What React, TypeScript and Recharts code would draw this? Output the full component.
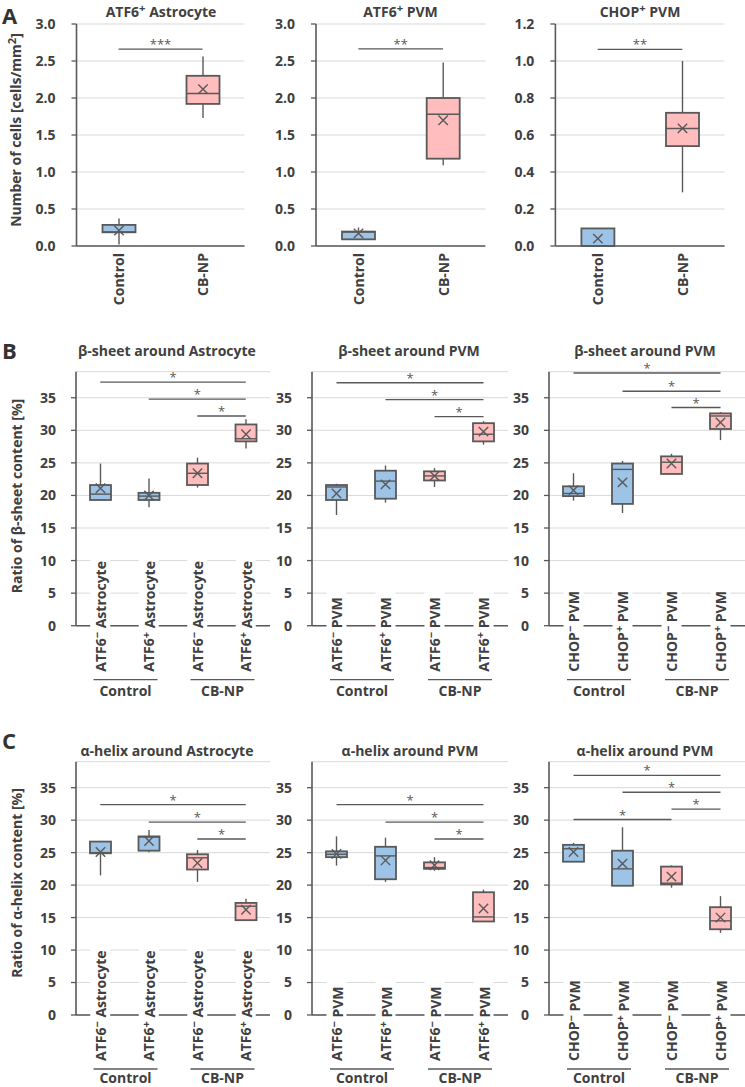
import React from "react";
import {
  ComposedChart,
  Bar,
  XAxis,
  YAxis,
  CartesianGrid,
  ReferenceLine,
} from "recharts";

const FONT = "'Open Sans', 'Segoe UI', sans-serif";
const TEXT = "#404040";
const LINE = "#595959";
const GRID = "#d9d9d9";
const BLUE = "#9dc3e6";
const PINK = "#ffbdbd";

// ---- ticks ----
const cellTicks = [0, 0.5, 1, 1.5, 2, 2.5, 3];
const chopCellTicks = [0, 0.2, 0.4, 0.6, 0.8, 1.0, 1.2];
const ratioTicks = [0, 5, 10, 15, 20, 25, 30, 35];

// ---- categories ----
const groupCategories = [
  { id: "Control", group: "Control" },
  { id: "CB-NP", group: "CB-NP" },
];
const atf6AstroCategories = [
  { id: "ctrl-", marker: "ATF6", sign: "−", cell: "Astrocyte", group: "Control" },
  { id: "ctrl+", marker: "ATF6", sign: "+", cell: "Astrocyte", group: "Control" },
  { id: "cb-", marker: "ATF6", sign: "−", cell: "Astrocyte", group: "CB-NP" },
  { id: "cb+", marker: "ATF6", sign: "+", cell: "Astrocyte", group: "CB-NP" },
];
const atf6PvmCategories = [
  { id: "ctrl-", marker: "ATF6", sign: "−", cell: "PVM", group: "Control" },
  { id: "ctrl+", marker: "ATF6", sign: "+", cell: "PVM", group: "Control" },
  { id: "cb-", marker: "ATF6", sign: "−", cell: "PVM", group: "CB-NP" },
  { id: "cb+", marker: "ATF6", sign: "+", cell: "PVM", group: "CB-NP" },
];
const chopPvmCategories = [
  { id: "ctrl-", marker: "CHOP", sign: "−", cell: "PVM", group: "Control" },
  { id: "ctrl+", marker: "CHOP", sign: "+", cell: "PVM", group: "Control" },
  { id: "cb-", marker: "CHOP", sign: "−", cell: "PVM", group: "CB-NP" },
  { id: "cb+", marker: "CHOP", sign: "+", cell: "PVM", group: "CB-NP" },
];

// ---- box statistics (min, q1, median, q3, max, mean) ----
const atf6AstroCells = [
  { min: 0.02, q1: 0.185, median: 0.19, q3: 0.285, max: 0.37, mean: 0.21 },
  { min: 1.73, q1: 1.92, median: 2.06, q3: 2.3, max: 2.56, mean: 2.12 },
];
const atf6PvmCells = [
  { min: 0.08, q1: 0.09, median: 0.19, q3: 0.195, max: 0.25, mean: 0.17 },
  { min: 1.09, q1: 1.18, median: 1.78, q3: 2.0, max: 2.48, mean: 1.7 },
];
const chopPvmCells = [
  { min: 0, q1: 0, median: 0, q3: 0.095, max: 0.095, mean: 0.04 },
  { min: 0.29, q1: 0.54, median: 0.635, q3: 0.72, max: 1.0, mean: 0.636 },
];

const betaAstro = [
  { min: 19.3, q1: 19.3, median: 20.2, q3: 21.6, max: 24.9, mean: 21.1 },
  { min: 18.2, q1: 19.3, median: 19.9, q3: 20.4, max: 22.6, mean: 20.0 },
  { min: 21.2, q1: 21.6, median: 23.4, q3: 24.9, max: 25.8, mean: 23.4 },
  { min: 27.2, q1: 28.3, median: 28.7, q3: 30.9, max: 31.7, mean: 29.4 },
];
const betaAtf6Pvm = [
  { min: 17.0, q1: 19.3, median: 21.3, q3: 21.6, max: 21.8, mean: 20.3 },
  { min: 18.9, q1: 19.5, median: 22.2, q3: 23.8, max: 24.6, mean: 21.7 },
  { min: 21.3, q1: 22.3, median: 23.0, q3: 23.7, max: 24.2, mean: 23.0 },
  { min: 27.8, q1: 28.3, median: 29.4, q3: 31.1, max: 31.4, mean: 29.8 },
];
const betaChopPvm = [
  { min: 19.2, q1: 19.9, median: 20.3, q3: 21.4, max: 23.4, mean: 20.8 },
  { min: 17.3, q1: 18.7, median: 24.0, q3: 24.9, max: 25.3, mean: 22.0 },
  { min: 23.3, q1: 23.3, median: 25.1, q3: 26.0, max: 26.4, mean: 24.9 },
  { min: 28.5, q1: 30.2, median: 32.2, q3: 32.6, max: 32.8, mean: 31.2 },
];

const alphaAstro = [
  { min: 21.5, q1: 24.9, median: 25.0, q3: 26.7, max: 26.8, mean: 25.1 },
  { min: 25.05, q1: 25.3, median: 27.4, q3: 27.5, max: 28.5, mean: 26.8 },
  { min: 20.5, q1: 22.4, median: 24.2, q3: 24.75, max: 25.4, mean: 23.4 },
  { min: 14.5, q1: 14.6, median: 16.75, q3: 17.26, max: 17.9, mean: 16.2 },
];
const alphaAtf6Pvm = [
  { min: 23.0, q1: 24.3, median: 24.75, q3: 25.2, max: 27.5, mean: 24.8 },
  { min: 20.5, q1: 20.9, median: 24.5, q3: 25.9, max: 27.3, mean: 23.8 },
  { min: 22.2, q1: 22.5, median: 22.7, q3: 23.5, max: 24.3, mean: 23.05 },
  { min: 14.4, q1: 14.4, median: 15.1, q3: 18.9, max: 19.3, mean: 16.4 },
];
const alphaChopPvm = [
  { min: 23.6, q1: 23.6, median: 25.6, q3: 26.2, max: 26.5, mean: 25.1 },
  { min: 19.9, q1: 19.9, median: 22.5, q3: 25.3, max: 28.9, mean: 23.3 },
  { min: 19.6, q1: 20.1, median: 20.3, q3: 22.85, max: 23.05, mean: 21.3 },
  { min: 12.65, q1: 13.2, median: 14.5, q3: 16.6, max: 18.3, mean: 15.0 },
];

// ---- significance brackets (category index from/to, y value, stars) ----
const atf6AstroCellsSig = [{ from: 0, to: 1, y: 2.66, label: "***" }];
const atf6PvmCellsSig = [{ from: 0, to: 1, y: 2.665, label: "**" }];
const chopPvmCellsSig = [{ from: 0, to: 1, y: 1.063, label: "**" }];
const betaAstroSig = [
  { from: 0, to: 3, y: 37.4, label: "*" },
  { from: 1, to: 3, y: 34.8, label: "*" },
  { from: 2, to: 3, y: 32.2, label: "*" },
];
const betaAtf6PvmSig = [
  { from: 0, to: 3, y: 37.3, label: "*" },
  { from: 1, to: 3, y: 34.7, label: "*" },
  { from: 2, to: 3, y: 32.1, label: "*" },
];
const betaChopPvmSig = [
  { from: 0, to: 3, y: 38.8, label: "*" },
  { from: 1, to: 3, y: 36.0, label: "*" },
  { from: 2, to: 3, y: 33.5, label: "*" },
];
const alphaAstroSig = [
  { from: 0, to: 3, y: 32.4, label: "*" },
  { from: 1, to: 3, y: 29.7, label: "*" },
  { from: 2, to: 3, y: 27.1, label: "*" },
];
const alphaAtf6PvmSig = [
  { from: 0, to: 3, y: 32.4, label: "*" },
  { from: 1, to: 3, y: 29.7, label: "*" },
  { from: 2, to: 3, y: 27.1, label: "*" },
];
const alphaChopPvmSig = [
  { from: 0, to: 3, y: 36.9, label: "*" },
  { from: 1, to: 3, y: 34.3, label: "*" },
  { from: 2, to: 3, y: 31.7, label: "*" },
  { from: 0, to: 2, y: 30.1, label: "*" },
];

function BoxShape(props: any) {
  const { x, y, width, height, payload } = props;
  const top = Math.min(y, y + height);
  const bottom = Math.max(y, y + height);
  const { min, max, q1, q3, median, mean, group } = payload;
  const span = max - min;
  // map a value into pixels using the bar's own scaled extent (min..max)
  const py = (v: number) =>
    span === 0 ? bottom : bottom - ((v - min) / span) * (bottom - top);
  const cx = x + width / 2;
  const m = py(mean);
  const s = 4.7;
  return (
    <g>
      <line x1={cx} x2={cx} y1={py(max)} y2={py(q3)} stroke={LINE} strokeWidth={1.4} />
      <line x1={cx} x2={cx} y1={py(q1)} y2={py(min)} stroke={LINE} strokeWidth={1.4} />
      <rect
        x={x}
        y={py(q3)}
        width={width}
        height={Math.max(py(q1) - py(q3), 0)}
        fill={group === "Control" ? BLUE : PINK}
        stroke={LINE}
        strokeWidth={1.8}
      />
      <line x1={x} x2={x + width} y1={py(median)} y2={py(median)} stroke={LINE} strokeWidth={1.4} />
      <path
        d={`M${cx - s},${m - s}L${cx + s},${m + s}M${cx + s},${m - s}L${cx - s},${m + s}`}
        stroke={LINE}
        strokeWidth={1.4}
        fill="none"
      />
    </g>
  );
}

function SimpleTick({ x, y, payload }: any) {
  return (
    <text
      transform={`rotate(-90 ${x} ${y + 7})`}
      x={x}
      y={y + 7}
      textAnchor="end"
      dominantBaseline="central"
      fill={TEXT}
      fontSize={14}
      fontWeight={700}
      fontFamily={FONT}
    >
      {payload.value}
    </text>
  );
}

function SplitTick({ x, y, payload, rows, band, labelLen, groupGap }: any) {
  const idx = rows.findIndex((r: any) => r.id === payload.value);
  const row = rows[idx];
  if (!row) return null;
  const baseY = y + 46;
  return (
    <g>
      <rect x={x - 10} y={baseY - labelLen - 2} width={20} height={labelLen - 42} fill="#fff" />
      <text
        transform={`rotate(-90 ${x} ${baseY})`}
        x={x}
        y={baseY}
        textAnchor="start"
        dominantBaseline="central"
        fill={TEXT}
        fontSize={14}
        fontWeight={700}
        fontFamily={FONT}
      >
        {row.marker}
        <tspan dy={-4} fontSize={11}>
          {row.sign}
        </tspan>
        <tspan dy={4}> {row.cell}</tspan>
      </text>
      {idx % 2 === 0 && (
        <g>
          <line
            x1={x + band / 2 - 31}
            x2={x + band / 2 + 33}
            y1={y + 54}
            y2={y + 54}
            stroke={LINE}
            strokeWidth={1.3}
          />
          <text
            x={x + band / 2 + 1}
            y={y + groupGap}
            textAnchor="middle"
            dominantBaseline="central"
            fill={TEXT}
            fontSize={14}
            fontWeight={700}
            fontFamily={FONT}
          >
            {row.group}
          </text>
        </g>
      )}
    </g>
  );
}

type PanelProps = {
  left: number;
  top: number;
  width: number;
  height: number;
  marginTop: number;
  marginRight: number;
  yAxisWidth: number;
  xAxisHeight: number;
  categories: any[];
  stats: any[];
  sig: { from: number; to: number; y: number; label: string }[];
  domain: [number, number];
  ticks: number[];
  digits: number;
  barSize: number;
  split?: boolean;
  labelLen?: number;
  groupGap?: number;
  tickMargin: number;
};

function BoxPanel(p: PanelProps) {
  const rows = p.categories.map((c, i) => ({ ...c, ...p.stats[i] }));
  const plotWidth = p.width - p.marginRight - p.yAxisWidth;
  const band = plotWidth / rows.length;
  return (
    <div style={{ position: "absolute", left: p.left, top: p.top }}>
      <ComposedChart
        width={p.width}
        height={p.height}
        data={rows}
        margin={{ top: p.marginTop, right: p.marginRight, bottom: 0, left: 0 }}
      >
        <CartesianGrid vertical={false} stroke={GRID} strokeWidth={1} />
        <YAxis
          type="number"
          domain={p.domain}
          ticks={p.ticks}
          width={p.yAxisWidth}
          tickFormatter={(v: number) => v.toFixed(p.digits)}
          tick={{ fill: TEXT, fontSize: 14, fontWeight: 700, fontFamily: FONT }}
          tickSize={5}
          tickMargin={p.tickMargin}
          tickLine={{ stroke: LINE, strokeWidth: 1.3 }}
          axisLine={{ stroke: LINE, strokeWidth: 1.6 }}
          interval={0}
        />
        <Bar
          dataKey={(d: any) => [d.min, d.max]}
          barSize={p.barSize}
          isAnimationActive={false}
          shape={(props: any) => <BoxShape {...props} />}
        />
        {p.sig.map((s, i) => (
          <ReferenceLine
            key={i}
            segment={[
              { x: rows[s.from].id, y: s.y },
              { x: rows[s.to].id, y: s.y },
            ]}
            stroke={LINE}
            strokeWidth={1.3}
            label={{
              value: s.label,
              position: "top",
              offset: 0,
              fill: LINE,
              fontSize: 13,
              fontFamily: FONT,
            }}
          />
        ))}
        <XAxis
          dataKey="id"
          type="category"
          height={p.xAxisHeight}
          interval={0}
          tickLine={false}
          tickSize={0}
          tickMargin={0}
          axisLine={{ stroke: LINE, strokeWidth: 1.6 }}
          tick={(tp: any) =>
            p.split ? (
              <SplitTick
                {...tp}
                rows={rows}
                band={band}
                labelLen={p.labelLen}
                groupGap={p.groupGap}
              />
            ) : (
              <SimpleTick {...tp} />
            )
          }
        />
      </ComposedChart>
    </div>
  );
}

const textBase: React.CSSProperties = {
  position: "absolute",
  fontFamily: FONT,
  fontWeight: 700,
  color: TEXT,
  whiteSpace: "nowrap",
  lineHeight: 1,
};

function Title({ cx, cy, children }: { cx: number; cy: number; children: React.ReactNode }) {
  return (
    <div style={{ ...textBase, left: cx, top: cy, fontSize: 14, transform: "translate(-50%, -50%)" }}>
      {children}
    </div>
  );
}

function YLabel({ cx, cy, children }: { cx: number; cy: number; children: React.ReactNode }) {
  return (
    <div
      style={{
        ...textBase,
        left: cx,
        top: cy,
        fontSize: 14,
        transform: "translate(-50%, -50%) rotate(-90deg)",
      }}
    >
      {children}
    </div>
  );
}

function Letter({ x, y, children }: { x: number; y: number; children: React.ReactNode }) {
  return (
    <div style={{ ...textBase, left: x, top: y, fontSize: 22, lineHeight: "normal", color: "#333" }}>
      {children}
    </div>
  );
}

const sup: React.CSSProperties = { fontSize: "0.8em", verticalAlign: "0.45em", lineHeight: 0 };

export default function App() {
  const rowB = { top: 330, height: 370, marginTop: 41.7, xAxisHeight: 74.3, groupGap: 65 };
  const rowC = { top: 700, height: 387, marginTop: 61.7, xAxisHeight: 72, groupGap: 62 };
  const cols = [
    { left: 0, width: 272, yAxisWidth: 76, marginRight: 2 },
    { left: 262, width: 250, yAxisWidth: 50, marginRight: 4 },
    { left: 495, width: 250, yAxisWidth: 54, marginRight: 0 },
  ];
  const common4 = {
    domain: [0, 39] as [number, number],
    ticks: ratioTicks,
    digits: 0,
    barSize: 21,
    split: true,
    tickMargin: 15,
  };
  const common2 = { top: 0, height: 320, marginTop: 24, xAxisHeight: 74, barSize: 33, digits: 1, tickMargin: 16 };

  return (
    <div
      style={{
        position: "absolute",
        left: 0,
        top: 0,
        width: 745,
        height: 1087,
        background: "#fff",
      }}
    >
      {/* Row A */}
      <BoxPanel
        {...common2}
        left={0}
        width={250}
        yAxisWidth={76.5}
        marginRight={5.5}
        categories={groupCategories}
        stats={atf6AstroCells}
        sig={atf6AstroCellsSig}
        domain={[0, 3]}
        ticks={cellTicks}
      />
      <BoxPanel
        {...common2}
        left={255}
        width={235.4}
        yAxisWidth={61}
        marginRight={5}
        categories={groupCategories}
        stats={atf6PvmCells}
        sig={atf6PvmCellsSig}
        domain={[0, 3]}
        ticks={cellTicks}
      />
      <BoxPanel
        {...common2}
        left={490}
        width={255}
        yAxisWidth={65.4}
        marginRight={20.4}
        categories={groupCategories}
        stats={chopPvmCells}
        sig={chopPvmCellsSig}
        domain={[0, 1.2]}
        ticks={chopCellTicks}
      />

      {/* Row B */}
      <BoxPanel {...common4} {...rowB} {...cols[0]} categories={atf6AstroCategories} stats={betaAstro} sig={betaAstroSig} labelLen={116} />
      <BoxPanel {...common4} {...rowB} {...cols[1]} categories={atf6PvmCategories} stats={betaAtf6Pvm} sig={betaAtf6PvmSig} labelLen={80} />
      <BoxPanel {...common4} {...rowB} {...cols[2]} categories={chopPvmCategories} stats={betaChopPvm} sig={betaChopPvmSig} labelLen={88} />

      {/* Row C */}
      <BoxPanel {...common4} {...rowC} {...cols[0]} categories={atf6AstroCategories} stats={alphaAstro} sig={alphaAstroSig} labelLen={116} />
      <BoxPanel {...common4} {...rowC} {...cols[1]} categories={atf6PvmCategories} stats={alphaAtf6Pvm} sig={alphaAtf6PvmSig} labelLen={80} />
      <BoxPanel {...common4} {...rowC} {...cols[2]} categories={chopPvmCategories} stats={alphaChopPvm} sig={alphaChopPvmSig} labelLen={88} />

      {/* Panel letters */}
      <Letter x={2} y={0}>A</Letter>
      <Letter x={2} y={335.2}>B</Letter>
      <Letter x={2} y={725.2}>C</Letter>

      {/* Titles */}
      <Title cx={161} cy={12}>
        ATF6<span style={sup}>+</span> Astrocyte
      </Title>
      <Title cx={400.5} cy={12}>
        ATF6<span style={sup}>+</span> PVM
      </Title>
      <Title cx={640} cy={12}>
        CHOP<span style={sup}>+</span> PVM
      </Title>
      <Title cx={167} cy={351}>β-sheet around Astrocyte</Title>
      <Title cx={409} cy={351}>β-sheet around PVM</Title>
      <Title cx={645} cy={351}>β-sheet around PVM</Title>
      <Title cx={167} cy={750.5}>α-helix around Astrocyte</Title>
      <Title cx={410} cy={750.5}>α-helix around PVM</Title>
      <Title cx={645} cy={750.5}>α-helix around PVM</Title>

      {/* Y axis labels */}
      <YLabel cx={16} cy={130}>
        Number of cells [cells/mm<span style={sup}>2</span>]
      </YLabel>
      <YLabel cx={17} cy={496}>Ratio of β-sheet content [%]</YLabel>
      <YLabel cx={17} cy={883}>Ratio of α-helix content [%]</YLabel>
    </div>
  );
}
